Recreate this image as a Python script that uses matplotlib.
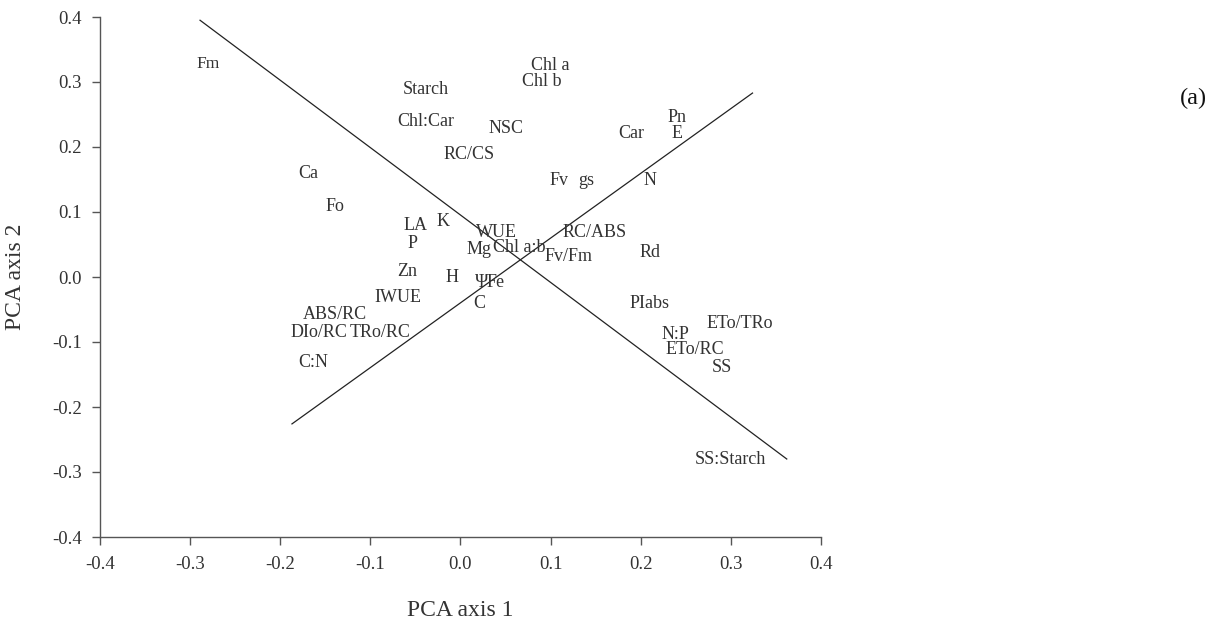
import numpy as np
import matplotlib
matplotlib.use("Agg")
import matplotlib.pyplot as plt
from matplotlib.ticker import FormatStrFormatter, MultipleLocator

plt.rcParams['font.family'] = ['Liberation Serif', 'DejaVu Serif']

# variable loadings on the first two PCA axes
names = ['Fm', 'Starch', 'Chl a', 'Chl b', 'Chl:Car', 'NSC', 'RC/CS', 'Ca',
         'Fv', 'gs', 'Fo', 'LA', 'K', 'P', 'WUE', 'Mg', 'Chl a:b', 'RC/ABS',
         'Fv/Fm', 'Rd', 'Zn', 'H', 'Ψ', 'Fe', 'IWUE', 'C', 'ABS/RC', 'DIo/RC',
         'TRo/RC', 'C:N', 'Car', 'Pn', 'E', 'N', 'PIabs', 'ETo/TRo', 'N:P',
         'ETo/RC', 'SS', 'SS:Starch']
pc1 = [-0.280, -0.039, 0.100, 0.090, -0.039, 0.050, 0.009, -0.169,
       0.109, 0.140, -0.139, -0.050, -0.019, -0.053, 0.040, 0.021, 0.065, 0.149,
       0.120, 0.210, -0.059, -0.009, 0.024, 0.039, -0.070, 0.021, -0.139, -0.157,
       -0.089, -0.164, 0.190, 0.240, 0.240, 0.210, 0.210, 0.310, 0.238,
       0.260, 0.290, 0.300]
pc2 = [0.328, 0.289, 0.325, 0.300, 0.240, 0.229, 0.189, 0.160,
       0.149, 0.148, 0.109, 0.080, 0.086, 0.051, 0.068, 0.042, 0.045, 0.069,
       0.031, 0.038, 0.009, 0.000, -0.009, -0.009, -0.031, -0.040, -0.058, -0.085,
       -0.085, -0.131, 0.220, 0.245, 0.220, 0.149, -0.040, -0.071, -0.089,
       -0.112, -0.140, -0.280]

# two separating lines
line1_x = [-0.289, 0.362]
line1_y = [0.395, -0.280]
line2_x = [-0.187, 0.324]
line2_y = [-0.226, 0.283]

fig = plt.figure(figsize=(12.1, 6.22), dpi=100)
ax = fig.add_axes([100 / 1210, 1 - 537 / 622, 721 / 1210, 520 / 622])

ax.plot(line1_x, line1_y, color='#222222', lw=0.9)
ax.plot(line2_x, line2_y, color='#222222', lw=0.9)

for n, x, y in zip(names, pc1, pc2):
    fs = 12.5 if n == 'Fm' else 13
    ax.text(x, y, n, ha='center', va='center', fontsize=fs, color='#333333')

ax.set_xlim(-0.4, 0.4)
ax.set_ylim(-0.4, 0.4)
ax.xaxis.set_major_locator(MultipleLocator(0.1))
ax.yaxis.set_major_locator(MultipleLocator(0.1))
ax.xaxis.set_major_formatter(FormatStrFormatter('%.1f'))
ax.yaxis.set_major_formatter(FormatStrFormatter('%.1f'))

for s in ['top', 'right']:
    ax.spines[s].set_visible(False)
for s in ['left', 'bottom']:
    ax.spines[s].set_color('#555555')
    ax.spines[s].set_linewidth(1.0)

ax.tick_params(axis='both', direction='out', length=6, width=1.0,
               color='#555555', labelsize=13.5, labelcolor='#333333')
ax.tick_params(axis='y', pad=7)
ax.tick_params(axis='x', pad=8)

ax.set_xlabel('PCA axis 1', fontsize=17, color='#333333')
ax.set_ylabel('PCA axis 2', fontsize=17, color='#333333')
ax.xaxis.set_label_coords(0.5, -0.122)
ax.yaxis.set_label_coords(-0.102, 0.5)

fig.text(0.986, 0.842, '(a)', ha='center', va='center', fontsize=17.5, color='#111111')

fig.savefig('out.png', dpi=100)
